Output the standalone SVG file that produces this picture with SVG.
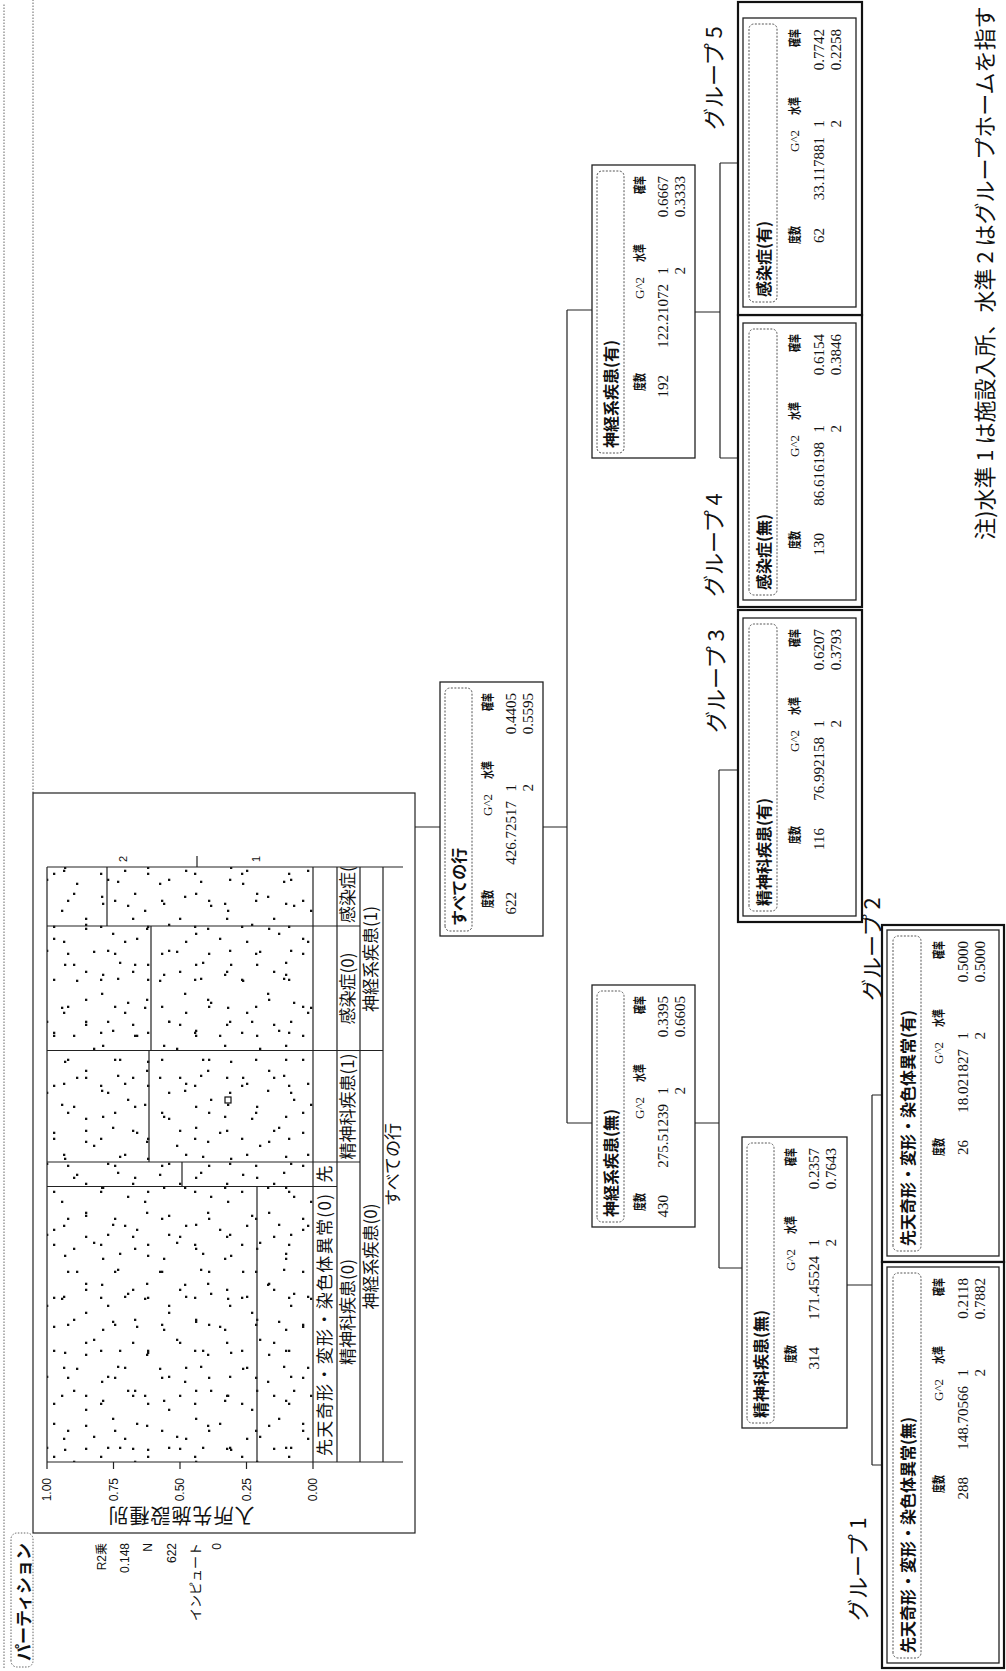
<svg xmlns="http://www.w3.org/2000/svg" width="1006" height="1671" viewBox="0 0 1006 1671">
<defs>
<style>
.ln{fill:none;stroke:#222;stroke-width:1.2}
.dl{fill:none;stroke:#666;stroke-width:1;stroke-dasharray:1.5 1.5}
.box{fill:#fff;stroke:#222;stroke-width:1.3}
.gbox{fill:#fff;stroke:#111;stroke-width:2.2}
.hdr{fill:none;stroke:#555;stroke-width:1;stroke-dasharray:2 1.5}
.ht{font-family:"Noto Sans CJK JP",sans-serif;font-weight:bold;font-size:16px;fill:#111}
.lb{font-family:"Noto Sans CJK JP",sans-serif;font-weight:bold;font-size:13px;fill:#111;text-anchor:end}
.nm{font-family:"Liberation Serif","Noto Sans CJK JP",serif;font-size:15px;fill:#111;text-anchor:end}
.pl{font-family:"Noto Sans CJK JP",sans-serif;font-size:17px;fill:#111;text-anchor:middle}
.st{font-family:"Liberation Sans","Noto Sans CJK JP",sans-serif;font-size:12px;fill:#111;text-anchor:end}
.gl{font-family:"Noto Sans CJK JP",sans-serif;font-size:22px;fill:#111}
.nt{font-family:"Noto Sans CJK JP",sans-serif;font-size:22px;fill:#111}
.d{fill:#111}
</style>
<pattern id="pa" patternUnits="userSpaceOnUse" x="209" y="47" width="53" height="47">
<rect class="d" x="4" y="6" width="2.3" height="2.3"/><rect class="d" x="30" y="20" width="2.3" height="2.3"/><rect class="d" x="12" y="38" width="2.3" height="2.3"/>
</pattern>
<pattern id="pb" patternUnits="userSpaceOnUse" x="220" y="52" width="71" height="61">
<rect class="d" x="11" y="11" width="2.3" height="2.3"/><rect class="d" x="59" y="21" width="2.3" height="2.3"/><rect class="d" x="24" y="33" width="2.3" height="2.3"/><rect class="d" x="49" y="50" width="2.3" height="2.3"/><rect class="d" x="2" y="55" width="2.3" height="2.3"/>
</pattern>
<pattern id="pc" patternUnits="userSpaceOnUse" x="213" y="49" width="97" height="83">
<rect class="d" x="7" y="15" width="2.3" height="2.3"/><rect class="d" x="33" y="4" width="2.3" height="2.3"/><rect class="d" x="61" y="12" width="2.3" height="2.3"/><rect class="d" x="88" y="27" width="2.3" height="2.3"/><rect class="d" x="20" y="44" width="2.3" height="2.3"/><rect class="d" x="47" y="36" width="2.3" height="2.3"/><rect class="d" x="75" y="52" width="2.3" height="2.3"/><rect class="d" x="9" y="70" width="2.3" height="2.3"/><rect class="d" x="38" y="63" width="2.3" height="2.3"/><rect class="d" x="66" y="78" width="2.3" height="2.3"/><rect class="d" x="90" y="68" width="2.3" height="2.3"/>
</pattern>
</defs>
<rect width="1006" height="1671" fill="#fff"/>
<g transform="translate(0,1671) rotate(-90)">
<g id="partition">
<line class="dl" x1="3" y1="4" x2="1668" y2="4"/>
<line class="dl" x1="878" y1="33" x2="1671" y2="33"/>
<rect class="dl" x="4" y="11" width="134" height="22" rx="6"/>
<text x="10" y="30" style="font-family:'Noto Sans CJK JP',sans-serif;font-weight:bold;font-size:17px;fill:#111">パーティション</text>
<rect class="ln" x="138" y="33" width="740" height="382"/>
<text class="st" x="128" y="106">R2乗</text>
<text class="st" x="128" y="129">0.148</text>
<text class="st" x="128" y="152">N</text>
<text class="st" x="128" y="176">622</text>
<text class="st" x="128" y="200" style="font-size:13px">インピュート</text>
<text class="st" x="128" y="221">0</text>
<rect x="209" y="47" width="595" height="266" fill="url(#pa)"/>
<rect x="209" y="47" width="595" height="266" fill="url(#pb)"/>
<rect x="209" y="47" width="595" height="266" fill="url(#pc)"/>
<rect x="568" y="225" width="6" height="6" fill="#fff" stroke="#111" stroke-width="1.2"/>
<path class="ln" d="M209,47V403M804,47V403M209,47H804M209,313H804M209,337H804M209,360H804M209,383H804M484.5,47V337M509,47V360M620.5,47V383M745,47V360M209,257H484.5M484.5,182H509M509,149H620.5M620.5,151H745M745,107H804M202,47H209M202,113.5H209M202,180H209M202,246.5H209M202,313H209M804,197H815"/>
<text class="st" x="193" y="51">1.00</text>
<text class="st" x="193" y="117.5">0.75</text>
<text class="st" x="193" y="184">0.50</text>
<text class="st" x="193" y="250.5">0.25</text>
<text class="st" x="193" y="317">0.00</text>
<text transform="translate(163,181) rotate(-90)" style="font-family:'Noto Sans CJK JP',sans-serif;font-size:20px;letter-spacing:1px;fill:#111;text-anchor:middle">入所先施設種別</text>
<text x="809" y="127" style="font-family:'Liberation Sans',sans-serif;font-size:11px;fill:#111">2</text>
<text x="809" y="260" style="font-family:'Liberation Sans',sans-serif;font-size:11px;fill:#111">1</text>
<text class="pl" x="346" y="331" textLength="262" lengthAdjust="spacing">先天奇形・変形・染色体異常(0)</text>
<text class="pl" x="497" y="331">先</text>
<text class="pl" x="359" y="354">精神科疾患(0)</text>
<text class="pl" x="564.5" y="354">精神科疾患(1)</text>
<text class="pl" x="682.5" y="354">感染症(0)</text>
<text class="pl" x="748" y="354" style="text-anchor:start">感染症(</text>
<text class="pl" x="414.5" y="377">神経系疾患(0)</text>
<text class="pl" x="712" y="377">神経系疾患(1)</text>
<text class="pl" x="506.5" y="399">すべての行</text>
</g>
<g id="connectors">
<path class="ln" d="M844,415V440M844,543V567M548,567H1361M548,567V592M1361,567V592M548,695V719M403,719H901M403,719V742M901,719V743M1359,695V720M1213,720H1508M1213,720V743M1508,720V743M386,847V872M206,872H576M206,872V887M576,872V887"/>
</g>
<g id="node-root" transform="translate(735,440)">
<rect class="box" width="254" height="103"/><rect class="hdr" x="5" y="5" width="243" height="27" rx="5"/>
<text class="ht" x="10" y="25">すべての行</text>
<text class="lb" x="46" y="52" textLength="18" lengthAdjust="spacingAndGlyphs">度数</text><text class="nm" x="142" y="52" style="font-size:13px">G^2</text><text class="lb" x="175" y="52" textLength="18" lengthAdjust="spacingAndGlyphs">水準</text><text class="lb" x="243" y="52" textLength="18" lengthAdjust="spacingAndGlyphs">確率</text>
<text class="nm" x="44" y="76">622</text><text class="nm" x="135" y="76">426.72517</text><text class="nm" x="152" y="76">1</text><text class="nm" x="243" y="76">0.4405</text>
<text class="nm" x="152" y="93">2</text><text class="nm" x="243" y="93">0.5595</text>
</g>
<g id="node-shinkei-mu" transform="translate(444,592)">
<rect class="box" width="242" height="103"/><rect class="hdr" x="5" y="5" width="231" height="27" rx="5"/>
<text class="ht" x="10" y="25">神経系疾患(無)</text>
<text class="lb" x="34" y="52" textLength="18" lengthAdjust="spacingAndGlyphs">度数</text><text class="nm" x="130" y="52" style="font-size:13px">G^2</text><text class="lb" x="163" y="52" textLength="18" lengthAdjust="spacingAndGlyphs">水準</text><text class="lb" x="231" y="52" textLength="18" lengthAdjust="spacingAndGlyphs">確率</text>
<text class="nm" x="32" y="76">430</text><text class="nm" x="123" y="76">275.51239</text><text class="nm" x="140" y="76">1</text><text class="nm" x="231" y="76">0.3395</text>
<text class="nm" x="140" y="93">2</text><text class="nm" x="231" y="93">0.6605</text>
</g>
<g id="node-shinkei-u" transform="translate(1213,592)">
<rect class="box" width="293" height="103"/><rect class="hdr" x="5" y="5" width="282" height="27" rx="5"/>
<text class="ht" x="10" y="25">神経系疾患(有)</text>
<text class="lb" x="85" y="52" textLength="18" lengthAdjust="spacingAndGlyphs">度数</text><text class="nm" x="181" y="52" style="font-size:13px">G^2</text><text class="lb" x="214" y="52" textLength="18" lengthAdjust="spacingAndGlyphs">水準</text><text class="lb" x="282" y="52" textLength="18" lengthAdjust="spacingAndGlyphs">確率</text>
<text class="nm" x="83" y="76">192</text><text class="nm" x="174" y="76">122.21072</text><text class="nm" x="191" y="76">1</text><text class="nm" x="282" y="76">0.6667</text>
<text class="nm" x="191" y="93">2</text><text class="nm" x="282" y="93">0.3333</text>
</g>
<g id="node-seishin-mu" transform="translate(243,742)">
<rect class="box" width="291" height="105"/><rect class="hdr" x="5" y="5" width="280" height="27" rx="5"/>
<text class="ht" x="10" y="25">精神科疾患(無)</text>
<text class="lb" x="83" y="53" textLength="18" lengthAdjust="spacingAndGlyphs">度数</text><text class="nm" x="179" y="53" style="font-size:13px">G^2</text><text class="lb" x="212" y="53" textLength="18" lengthAdjust="spacingAndGlyphs">水準</text><text class="lb" x="280" y="53" textLength="18" lengthAdjust="spacingAndGlyphs">確率</text>
<text class="nm" x="81" y="77">314</text><text class="nm" x="172" y="77">171.45524</text><text class="nm" x="189" y="77">1</text><text class="nm" x="280" y="77">0.2357</text>
<text class="nm" x="189" y="94">2</text><text class="nm" x="280" y="94">0.7643</text>
</g>
<g id="group3">
<rect class="gbox" x="749" y="738" width="312" height="124"/>
<g transform="translate(755,743)">
<rect class="box" width="298" height="113"/><rect class="hdr" x="5" y="6" width="287" height="28" rx="5"/>
<text class="ht" x="10" y="27">精神科疾患(有)</text>
<text class="lb" x="90" y="56" textLength="18" lengthAdjust="spacingAndGlyphs">度数</text><text class="nm" x="186" y="56" style="font-size:13px">G^2</text><text class="lb" x="219" y="56" textLength="18" lengthAdjust="spacingAndGlyphs">水準</text><text class="lb" x="287" y="56" textLength="18" lengthAdjust="spacingAndGlyphs">確率</text>
<text class="nm" x="88" y="81">116</text><text class="nm" x="179" y="81">76.992158</text><text class="nm" x="196" y="81">1</text><text class="nm" x="287" y="81">0.6207</text>
<text class="nm" x="196" y="98">2</text><text class="nm" x="287" y="98">0.3793</text>
</g>
<text class="gl" x="938" y="724">グループ 3</text>
</g>
<g id="group4">
<rect class="gbox" x="1064" y="738" width="292" height="124"/>
<g transform="translate(1071,743)">
<rect class="box" width="277" height="113"/><rect class="hdr" x="5" y="6" width="266" height="28" rx="5"/>
<text class="ht" x="10" y="27">感染症(無)</text>
<text class="lb" x="69" y="56" textLength="18" lengthAdjust="spacingAndGlyphs">度数</text><text class="nm" x="165" y="56" style="font-size:13px">G^2</text><text class="lb" x="198" y="56" textLength="18" lengthAdjust="spacingAndGlyphs">水準</text><text class="lb" x="266" y="56" textLength="18" lengthAdjust="spacingAndGlyphs">確率</text>
<text class="nm" x="67" y="81">130</text><text class="nm" x="158" y="81">86.616198</text><text class="nm" x="175" y="81">1</text><text class="nm" x="266" y="81">0.6154</text>
<text class="nm" x="175" y="98">2</text><text class="nm" x="266" y="98">0.3846</text>
</g>
<text class="gl" x="1074" y="722">グループ 4</text>
</g>
<g id="group5">
<rect class="gbox" x="1356" y="738" width="313" height="124"/>
<g transform="translate(1364,743)">
<rect class="box" width="289" height="113"/><rect class="hdr" x="5" y="6" width="278" height="28" rx="5"/>
<text class="ht" x="10" y="27">感染症(有)</text>
<text class="lb" x="81" y="56" textLength="18" lengthAdjust="spacingAndGlyphs">度数</text><text class="nm" x="177" y="56" style="font-size:13px">G^2</text><text class="lb" x="210" y="56" textLength="18" lengthAdjust="spacingAndGlyphs">水準</text><text class="lb" x="278" y="56" textLength="18" lengthAdjust="spacingAndGlyphs">確率</text>
<text class="nm" x="79" y="81">62</text><text class="nm" x="170" y="81">33.117881</text><text class="nm" x="187" y="81">1</text><text class="nm" x="278" y="81">0.7742</text>
<text class="nm" x="187" y="98">2</text><text class="nm" x="278" y="98">0.2258</text>
</g>
<text class="gl" x="1541" y="722">グループ 5</text>
</g>
<g id="group2">
<rect class="gbox" x="409" y="882" width="337" height="122"/>
<g transform="translate(415,887)">
<rect class="box" width="326" height="112"/><rect class="hdr" x="5" y="6" width="315" height="28" rx="5"/>
<text class="ht" x="10" y="27">先天奇形・変形・染色体異常(有)</text>
<text class="lb" x="118" y="56" textLength="18" lengthAdjust="spacingAndGlyphs">度数</text><text class="nm" x="214" y="56" style="font-size:13px">G^2</text><text class="lb" x="247" y="56" textLength="18" lengthAdjust="spacingAndGlyphs">水準</text><text class="lb" x="315" y="56" textLength="18" lengthAdjust="spacingAndGlyphs">確率</text>
<text class="nm" x="116" y="81">26</text><text class="nm" x="207" y="81">18.021827</text><text class="nm" x="224" y="81">1</text><text class="nm" x="315" y="81">0.5000</text>
<text class="nm" x="224" y="98">2</text><text class="nm" x="315" y="98">0.5000</text>
</g>
<text class="gl" x="670" y="880">グループ 2</text>
</g>
<g id="group1">
<rect class="gbox" x="3" y="882" width="406" height="122"/>
<g transform="translate(8,887)">
<rect class="box" width="396" height="112"/><rect class="hdr" x="5" y="6" width="385" height="28" rx="5"/>
<text class="ht" x="10" y="27">先天奇形・変形・染色体異常(無)</text>
<text class="lb" x="188" y="56" textLength="18" lengthAdjust="spacingAndGlyphs">度数</text><text class="nm" x="284" y="56" style="font-size:13px">G^2</text><text class="lb" x="317" y="56" textLength="18" lengthAdjust="spacingAndGlyphs">水準</text><text class="lb" x="385" y="56" textLength="18" lengthAdjust="spacingAndGlyphs">確率</text>
<text class="nm" x="186" y="81">288</text><text class="nm" x="277" y="81">148.70566</text><text class="nm" x="294" y="81">1</text><text class="nm" x="385" y="81">0.2118</text>
<text class="nm" x="294" y="98">2</text><text class="nm" x="385" y="98">0.7882</text>
</g>
<text class="gl" x="50" y="866">グループ 1</text>
</g>
<text class="nt" x="1131" y="993">注)水準 1 は施設入所、水準 2 はグループホームを指す</text>
</g>
</svg>
